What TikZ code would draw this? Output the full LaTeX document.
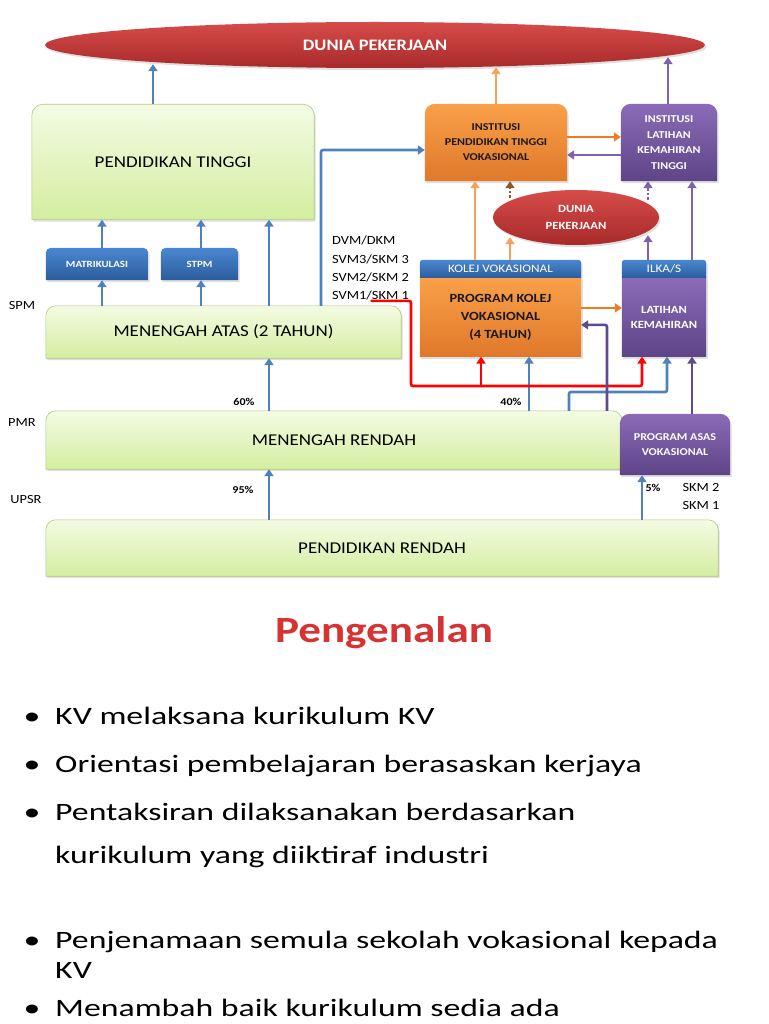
\documentclass[tikz,border=0pt]{standalone}
\usepackage{fontspec}
\setmainfont{Carlito}[FakeStretch=1.15]
\newfontfamily\bodyfont{Carlito}[FakeStretch=1.35]
\newfontfamily\titlefont{Carlito}[FakeStretch=1.22]
\usetikzlibrary{positioning,calc}
\usetikzlibrary{shapes.geometric,arrows.meta}
\usetikzlibrary{shadows,backgrounds}

\definecolor{edgeblue}{HTML}{4F81BD}
\definecolor{edgeorange}{HTML}{F4A259}
\definecolor{edgedarkorange}{HTML}{F07A22}
\definecolor{edgepurple}{HTML}{7F62AE}
\definecolor{edgedarkpurple}{HTML}{5D4B8A}
\definecolor{edgebrown}{HTML}{8B5A2B}
\definecolor{edgered}{HTML}{FF0000}
\definecolor{greentop}{HTML}{F4FBE4}
\definecolor{greenbot}{HTML}{D3EEA0}
\definecolor{greenline}{HTML}{AFC97F}
\definecolor{bluetop}{HTML}{4A87D2}
\definecolor{bluebot}{HTML}{2B5C9C}
\definecolor{orangetop}{HTML}{F9A049}
\definecolor{orangebot}{HTML}{E0782A}
\definecolor{purpletop}{HTML}{8B6BB8}
\definecolor{purplebot}{HTML}{5E4487}
\definecolor{duniatop}{HTML}{D64C4A}
\definecolor{duniabot}{HTML}{A82A2A}
\definecolor{titlered}{HTML}{D63333}

\tikzstyle{boxshadow}=[drop shadow={opacity=0.25,shadow xshift=1.5pt,shadow yshift=-2pt}]
\tikzstyle{greenfill}=[top color=greentop, bottom color=greenbot, draw=greenline, line width=0.6pt, boxshadow]
\tikzstyle{bluefill}=[top color=bluetop, bottom color=bluebot, boxshadow]
\tikzstyle{orangefill}=[top color=orangetop, bottom color=orangebot, boxshadow]
\tikzstyle{purplefill}=[top color=purpletop, bottom color=purplebot, boxshadow]
\tikzstyle{boxtext}=[inner sep=0pt, font=\fontsize{16.5}{19}\selectfont]
\tikzstyle{smallblue}=[inner sep=0pt, minimum height=32pt, text=white, font=\bfseries\fontsize{9.5}{11}\selectfont]
\tikzstyle{headtext}=[inner sep=0pt, minimum height=18pt, text=white, font=\fontsize{11.5}{13}\selectfont]
\tikzstyle{orangetext}=[inner sep=0pt, align=center, text=black!90, font=\bfseries\fontsize{10.5}{15}\selectfont]
\tikzstyle{purpletext}=[inner sep=0pt, align=center, text=white, font=\bfseries\fontsize{10.5}{15.5}\selectfont]
\tikzstyle{bigdunia}=[ellipse, inner sep=0pt, minimum width=660pt, minimum height=46pt, top color=duniatop, bottom color=duniabot, text=white, font=\bfseries\fontsize{16}{18}\selectfont, boxshadow]
\tikzstyle{smalldunia}=[ellipse, inner sep=0pt, align=center, minimum width=166pt, minimum height=55pt, top color=duniatop, bottom color=duniabot, text=white, font=\bfseries\fontsize{11}{17}\selectfont, boxshadow]
\tikzstyle{sidetext}=[inner sep=1pt, font=\fontsize{12.5}{14}\selectfont]
\tikzstyle{pcttext}=[inner sep=1pt, font=\bfseries\fontsize{10.5}{12}\selectfont]
\tikzstyle{titletext}=[inner sep=0pt, text=titlered, font=\titlefont\bfseries\fontsize{37}{44}\selectfont]
\tikzstyle{bullettext}=[inner sep=0pt, font=\bodyfont\fontsize{25}{30}\selectfont]
\tikzstyle{edge}=[line width=2.6pt, rounded corners=2pt, -{Triangle[width=9pt,length=7pt]}]
\tikzstyle{blueedge}=[edge, draw=edgeblue]
\tikzstyle{orangeedge}=[edge, draw=edgeorange]
\tikzstyle{darkorangeedge}=[edge, draw=edgedarkorange]
\tikzstyle{purpleedge}=[edge, draw=edgepurple]
\tikzstyle{darkpurpleedge}=[edge, draw=edgedarkpurple]
\tikzstyle{rededge}=[edge, draw=edgered]
\tikzstyle{dotbrown}=[edge, dotted, draw=edgebrown]
\tikzstyle{dotpurple}=[edge, dotted, draw=edgepurple]

% box with rounded top corners only, drawn behind node #1
\newcommand{\roundtop}[3]{\path[#3] (#1.south west) [rounded corners=#2] -- (#1.north west) -- (#1.north east) [sharp corners] -- (#1.south east) -- cycle;}

\begin{document}
\begin{tikzpicture}[x=1pt,y=-1pt]
  \useasboundingbox (0,0) rectangle (768,1024);

  % columns of the arrows
  \foreach \name/\x in {c102/102, c153/153, c201/201, c269/269, c321/321, c411/411, c475/475, c481/481, c496/496,
                        c510/510, c529/529, c569/569, c607/607, c642/642, c648/648, c667/667, c668/668, c692/692}
    \coordinate (\name) at (\x,0);
  \coordinate (rr) at (411,386);
  \coordinate (br) at (0,392);

  % diagram
  \node[bigdunia] (dunia) at (375,45) {DUNIA PEKERJAAN};
  \node[boxtext, minimum width=282pt, minimum height=115pt] (pt) at (173,162) {PENDIDIKAN TINGGI};
  \node[smallblue, minimum width=102pt] (matrik) at (97,264) {MATRIKULASI};
  \node[smallblue, minimum width=77pt] (stpm) at (199.5,264) {STPM};
  \node[boxtext, minimum width=355pt, minimum height=52pt] (ma) at (223.5,332) {MENENGAH ATAS (2 TAHUN)};
  \node[boxtext, minimum width=576pt, minimum height=58pt] (mr) at (334,440) {MENENGAH RENDAH};
  \node[boxtext, minimum width=672pt, minimum height=56pt] (pr) at (382,548) {PENDIDIKAN RENDAH};

  \node[orangetext, minimum width=142pt, minimum height=77pt] (iptv) at (496,142.5) {INSTITUSI\\PENDIDIKAN TINGGI\\VOKASIONAL};
  \node[purpletext, minimum width=96pt, minimum height=77pt] (ilkt) at (669,142.5) {INSTITUSI\\LATIHAN\\KEMAHIRAN\\TINGGI};
  \node[smalldunia] (dunia2) at (576,217.5) {DUNIA\\PEKERJAAN};
  \node[headtext, minimum width=161pt] (kv) at (500.5,269) {KOLEJ VOKASIONAL};
  \node[orangetext, font=\bfseries\fontsize{12.5}{18}\selectfont, below=0pt of kv, minimum width=161pt, minimum height=78pt] (pkv) {PROGRAM KOLEJ\\VOKASIONAL\\(4 TAHUN)};
  \node[headtext, minimum width=84pt] (ilka) at (664,269) {ILKA/S};
  \node[purpletext, font=\bfseries\fontsize{11}{15}\selectfont, below=0pt of ilka, minimum width=84pt, minimum height=78pt] (lk) {LATIHAN\\KEMAHIRAN};
  \node[purpletext, minimum width=110pt, minimum height=61pt] (pav) at (675,444.5) {PROGRAM ASAS\\VOKASIONAL};

  \begin{scope}[on background layer]
    \roundtop{pt}{11pt}{greenfill}
    \roundtop{ma}{10pt}{greenfill}
    \roundtop{mr}{10pt}{greenfill}
    \roundtop{pr}{10pt}{greenfill}
    \roundtop{matrik}{5pt}{bluefill}
    \roundtop{stpm}{5pt}{bluefill}
    \roundtop{iptv}{10pt}{orangefill}
    \roundtop{ilkt}{10pt}{purplefill}
    \roundtop{kv}{3pt}{bluefill}
    \path[orangefill] (pkv.south west) rectangle (pkv.north east);
    \roundtop{ilka}{3pt}{bluefill}
    \path[purplefill] (lk.south west) rectangle (lk.north east);
    \roundtop{pav}{10pt}{purplefill}
  \end{scope}

  % side labels
  \node[sidetext] (spm) at (22,305) {SPM};
  \node[sidetext] (pmr) at (22,422) {PMR};
  \node[sidetext] (upsr) at (26,499) {UPSR};
  \node[sidetext, anchor=west] (dvm) at (331,240) {DVM/DKM};
  \node[sidetext, anchor=west] (svm3) at (331,259) {SVM3/SKM 3};
  \node[sidetext, anchor=west] (svm2) at (331,277) {SVM2/SKM 2};
  \node[sidetext, anchor=west] (svm1) at (331,295) {SVM1/SKM 1};
  \node[sidetext] (skm2) at (701,487) {SKM 2};
  \node[sidetext] (skm1) at (701,505) {SKM 1};
  \node[pcttext] (p60) at (244,402) {60\%};
  \node[pcttext] (p40) at (511,402) {40\%};
  \node[pcttext] (p95) at (243,490) {95\%};
  \node[pcttext] (p5) at (653,488) {5\%};

  % arrows
  \draw[blueedge] (pt.north -| c153) -- ($(dunia.south -| c153)+(0,-4)$);
  \draw[orangeedge] (iptv.north -| c496) -- ($(dunia.south -| c496)+(0,-1)$);
  \draw[purpleedge] (ilkt.north -| c668) -- ($(dunia.south -| c668)+(0,-11)$);

  \foreach \source/\dest/\col in {ma/matrik/c102, matrik/pt/c102, ma/stpm/c201, stpm/pt/c201,
                                  ma/pt/c269, mr/ma/c269, pr/mr/c269, mr/pkv/c529, pr/pav/c642}
    \draw[blueedge] (\source.north -| \col) -- (\dest.south -| \col);

  \draw[blueedge] (ma.north -| c321) |- ([yshift=-7.5pt]iptv.west);
  \draw[darkorangeedge] ([yshift=5.5pt]iptv.east) -- ([yshift=5.5pt]ilkt.west);
  \draw[purpleedge] ([yshift=-12.5pt]ilkt.west) -- ([yshift=-12.5pt]iptv.east);

  \draw[orangeedge] (kv.north -| c475) -- (iptv.south -| c475);
  \draw[orangeedge] (kv.north -| c510) -- ($(dunia2.south -| c510)+(0,-8)$);
  \draw[dotbrown] ($(dunia2.north -| c510)+(0,8)$) -- (iptv.south -| c510);
  \draw[purpleedge] (ilka.north -| c648) -- ($(dunia2.south -| c648)+(0,-10)$);
  \draw[dotpurple] ($(dunia2.north -| c648)+(0,10)$) -- (ilkt.south -| c648);
  \draw[purpleedge] (ilka.north -| c692) -- (ilkt.south -| c692);
  \draw[darkorangeedge] ([yshift=9.5pt]pkv.east) -- ([yshift=9.5pt]lk.west);

  \draw[rededge] (svm1.south) -| (rr) -| (lk.south -| c642);
  \draw[rededge] (c481 |- rr) -- (pkv.south -| c481);
  \draw[blueedge] (mr.north -| c569) |- (c667 |- br) -- (lk.south -| c667);
  \draw[darkpurpleedge] (mr.north -| c607) |- ([yshift=-7.5pt]pkv.east);
  \draw[darkpurpleedge] (pav.north -| c692) -- (lk.south -| c692);

  % text of the slide
  \node[titletext, anchor=base] (title) at (384,642) {Pengenalan};
  \foreach \n/\y/\t in {l1/724/{KV melaksana kurikulum KV}, l2/772/{Orientasi pembelajaran berasaskan kerjaya},
                        l3/820/{Pentaksiran dilaksanakan berdasarkan}, l4/863/{kurikulum yang diiktiraf industri},
                        l5/948/{Penjenamaan semula sekolah vokasional kepada}, l6/978/{KV},
                        l7/1016/{Menambah baik kurikulum sedia ada}}
    \node[bullettext, anchor=base west] (\n) at (55,\y) {\t};
  \foreach \n/\y in {d1/724, d2/772, d3/820, d5/948, d7/1016}
    \node[bullettext, anchor=base] (\n) at (32,\y) {•};
\end{tikzpicture}
\end{document}
